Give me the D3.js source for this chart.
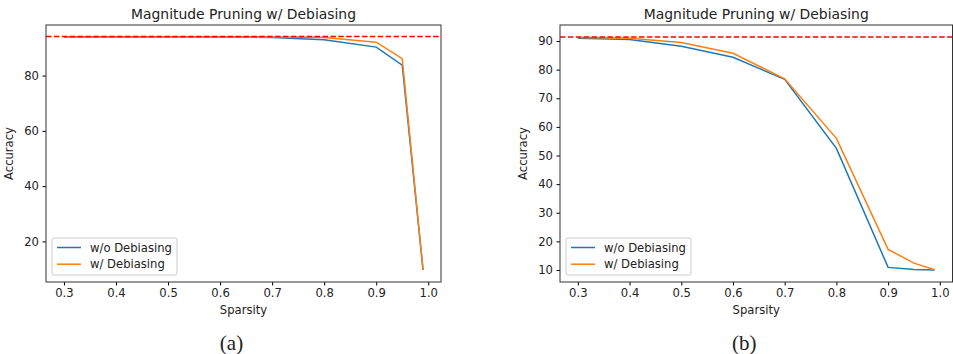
<!DOCTYPE html>
<html>
<head>
<meta charset="utf-8">
<script src="https://cdn.jsdelivr.net/npm/d3@7"></script>
<style>
  body { margin: 0; background: #fff; }
  svg text { font-family: "DejaVu Sans", sans-serif; fill: #222; }
</style>
</head>
<body>
<svg id="chart" width="953" height="354"></svg>
<script>
// sparsity levels shared by both panels
const sparsity = [0.3, 0.4, 0.5, 0.6, 0.7, 0.8, 0.9, 0.95, 0.99];
const xTicks = [0.3, 0.4, 0.5, 0.6, 0.7, 0.8, 0.9, 1.0];

// panel (a)
const aWithout = [94.0, 94.0, 94.0, 93.9, 93.8, 93.0, 90.3, 83.8, 9.6];
const aWith = [94.0, 94.0, 94.0, 94.0, 94.0, 93.8, 92.1, 86.1, 9.7];
const aBaseline = 94.1;
const aYTicks = [20, 40, 60, 80];

// panel (b)
const bWithout = [91.0, 90.5, 88.2, 84.3, 76.6, 52.5, 10.9, 10.2, 10.0];
const bWith = [91.2, 91.0, 89.5, 85.7, 76.8, 56.0, 17.2, 12.4, 10.1];
const bBaseline = 91.4;
const bYTicks = [10, 20, 30, 40, 50, 60, 70, 80, 90];

const seriesNames = ["w/o Debiasing", "w/ Debiasing"];
const colors = ["#1f77b4", "#ff7f0e"];

const FS = 11.6; // tick / label size

const svg = d3.select("#chart");

function panel(left, right, without, withD, baseline, yTicks, yDomain, caption) {
    const top = 25, bottom = 282;
    const x = d3.scaleLinear().domain([0.2655, 1.0245]).range([left, right]);
    const y = d3.scaleLinear().domain(yDomain).range([bottom, top]);
    const g = svg.append("g");

    const clipId = "clip" + caption;
    g.append("clipPath").attr("id", clipId)
      .append("rect").attr("x", left).attr("y", top)
      .attr("width", right - left).attr("height", bottom - top);

    // axes
    g.append("g")
      .attr("transform", `translate(0,${bottom})`)
      .call(d3.axisBottom(x).tickValues(xTicks).tickFormat(d3.format(".1f")).tickSizeOuter(0).tickSize(3.5).tickPadding(3.5))
      .call(a => a.select(".domain").remove())
      .call(a => a.selectAll("text").attr("font-size", FS).attr("fill", "#222").style("font-family", "DejaVu Sans"));
    g.append("g")
      .attr("transform", `translate(${left},0)`)
      .call(d3.axisLeft(y).tickValues(yTicks).tickSizeOuter(0).tickSize(3.5).tickPadding(3.5))
      .call(a => a.select(".domain").remove())
      .call(a => a.selectAll("text").attr("font-size", FS).attr("fill", "#222").style("font-family", "DejaVu Sans"));

    const plot = g.append("g").attr("clip-path", `url(#${clipId})`);

    const line = d3.line().x((d, i) => x(sparsity[i])).y(d => y(d));
    [without, withD].forEach((vals, k) => {
        plot.append("path").datum(vals)
          .attr("d", line).attr("fill", "none")
          .attr("stroke", colors[k]).attr("stroke-width", 1.5);
    });

    plot.append("line")
      .attr("x1", left).attr("x2", right)
      .attr("y1", y(baseline)).attr("y2", y(baseline))
      .attr("stroke", "#ff0000").attr("stroke-width", 1.5)
      .attr("stroke-dasharray", "5.5,2.4");

    g.append("rect")
      .attr("x", left).attr("y", top)
      .attr("width", right - left).attr("height", bottom - top)
      .attr("fill", "none").attr("stroke", "#333").attr("stroke-width", 1);

    // legend
    const lg = g.append("g").attr("transform", `translate(${left + 6},238)`);
    lg.append("rect").attr("width", 125).attr("height", 37).attr("rx", 2)
      .attr("fill", "#fff").attr("fill-opacity", 0.8)
      .attr("stroke", "#ccc").attr("stroke-width", 1);
    seriesNames.forEach((name, k) => {
        const yy = 9.5 + k * 16.7;
        lg.append("line").attr("x1", 5).attr("x2", 29).attr("y1", yy).attr("y2", yy)
          .attr("stroke", colors[k]).attr("stroke-width", 1.5);
        lg.append("text").attr("x", 38).attr("y", yy + 4.2).attr("font-size", FS).text(name);
    });

    const cx = (left + right) / 2;
    g.append("text").attr("x", cx).attr("y", 18.5).attr("text-anchor", "middle")
      .attr("font-size", 13.9).text("Magnitude Pruning w/ Debiasing");
    g.append("text").attr("x", cx).attr("y", 314).attr("text-anchor", "middle")
      .attr("font-size", FS).text("Sparsity");
    g.append("text")
      .attr("transform", `translate(${left - 33},${(top + bottom) / 2}) rotate(-90)`)
      .attr("text-anchor", "middle").attr("font-size", FS).text("Accuracy");
    g.append("text").attr("x", cx - 12).attr("y", 350).attr("text-anchor", "middle")
      .style("font-family", "Liberation Serif, serif").attr("font-size", 21)
      .text(`(${caption})`);
}

panel(46, 441, aWithout, aWith, aBaseline, aYTicks, [5.3, 98.3], "a");
panel(560, 952.5, bWithout, bWith, bBaseline, bYTicks, [5.8, 95.6], "b");
</script>
</body>
</html>
